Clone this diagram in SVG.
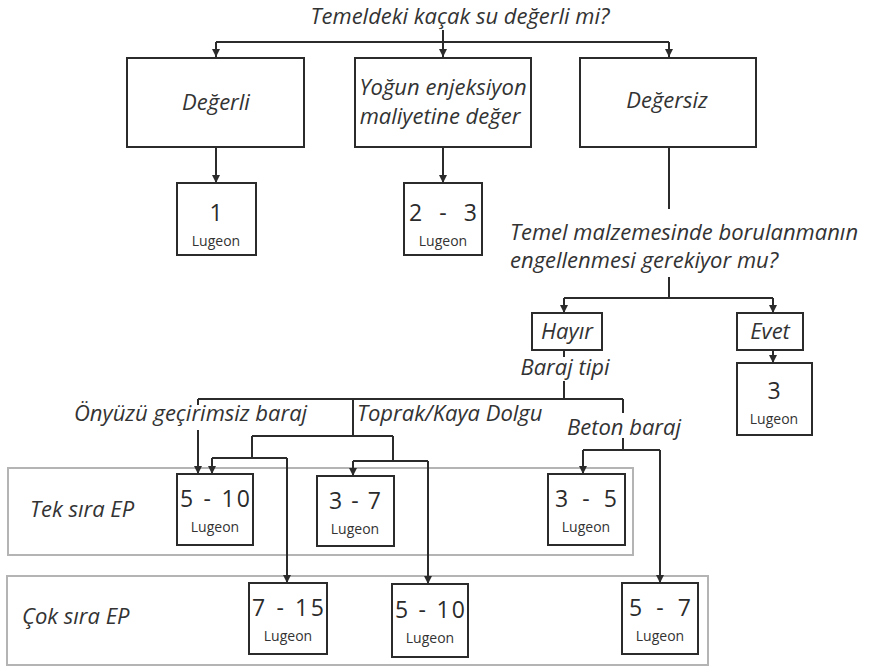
<svg xmlns="http://www.w3.org/2000/svg" width="870" height="669" viewBox="0 0 870 669">
<defs>
<marker id="ah" viewBox="0 0 10 10" refX="10" refY="5" markerWidth="8" markerHeight="8" markerUnits="userSpaceOnUse" orient="auto">
<path d="M0,0 L10,5 L0,10 z" fill="#2b2b2b"/>
</marker>
<style>
.it{font-family:"Open Sans","Noto Sans","DejaVu Sans",sans-serif;font-style:italic;fill:#333;font-size:22px}
.num{font-family:"Open Sans","Noto Sans","DejaVu Sans",sans-serif;fill:#2b2b2b;font-size:23px;text-anchor:middle}
.lu{font-family:"Open Sans","Noto Sans","DejaVu Sans",sans-serif;fill:#333;font-size:14px;text-anchor:middle}
.box{fill:#fff;stroke:#2b2b2b;stroke-width:2}
.cont{fill:none;stroke:#b4b4b4;stroke-width:2}
.ln{fill:none;stroke:#2b2b2b;stroke-width:2}
.ar{fill:none;stroke:#2b2b2b;stroke-width:2;marker-end:url(#ah)}
</style>
</defs>
<rect width="870" height="669" fill="#fff"/>

<g id="containers">
<rect id="tek" class="cont" x="8" y="468" width="625" height="87"/>
<rect id="cok" class="cont" x="7" y="576" width="701" height="89"/>
</g>

<g id="connectors">
<path class="ar" d="M443 30 V57"/>
<path class="ln" d="M216 42 H669"/>
<path class="ar" d="M216 42 V57"/>
<path class="ar" d="M669 42 V57"/>
<path class="ar" d="M216 147 V183"/>
<path class="ar" d="M443 147 V183"/>
<path class="ln" d="M669 147 V209"/>
<path class="ln" d="M669 277 V298"/>
<path class="ln" d="M564 298 H773"/>
<path class="ar" d="M564 298 V313"/>
<path class="ar" d="M773 298 V313"/>
<path class="ar" d="M773 350 V363"/>
<path class="ln" d="M564 350 V357"/>
<path class="ln" d="M564 381 V399"/>
<path class="ln" d="M198 399 H623"/>
<path class="ln" d="M198 399 V405"/>
<path class="ar" d="M198 430 V474"/>
<path class="ln" d="M353 399 V436"/>
<path class="ln" d="M252 436 H393"/>
<path class="ln" d="M252 436 V458"/>
<path class="ln" d="M212 458 H287"/>
<path class="ar" d="M212 458 V474"/>
<path class="ar" d="M287 458 V583"/>
<path class="ln" d="M393 436 V461"/>
<path class="ln" d="M353 461 H428"/>
<path class="ar" d="M353 461 V476"/>
<path class="ar" d="M428 461 V584"/>
<path class="ln" d="M623 399 V413"/>
<path class="ln" d="M623 438 V450"/>
<path class="ln" d="M583 450 H660"/>
<path class="ar" d="M583 450 V474"/>
<path class="ar" d="M660 450 V583"/>
</g>

<g id="q1"><text class="it" x="460" y="24" font-size="21.5" text-anchor="middle">Temeldeki kaçak su değerli mi?</text></g>

<g id="degerli">
<rect class="box" x="127" y="58" width="177" height="89"/>
<text class="it" x="216" y="110" font-size="24.5" text-anchor="middle">Değerli</text>
</g>
<g id="yogun">
<rect class="box" x="355" y="58" width="176" height="89"/>
<text class="it" x="443" y="95" font-size="22.5" text-anchor="middle">Yoğun enjeksiyon</text>
<text class="it" x="440" y="124" font-size="22.5" text-anchor="middle">maliyetine değer</text>
</g>
<g id="degersiz">
<rect class="box" x="580" y="58" width="176" height="89"/>
<text class="it" x="667" y="108" font-size="25" text-anchor="middle">Değersiz</text>
</g>

<g id="r1">
<rect class="box" x="177" y="183" width="79" height="72"/>
<text class="num" x="216" y="221" font-size="25">1</text>
<text class="lu" x="216" y="246">Lugeon</text>
</g>
<g id="r23">
<rect class="box" x="404" y="183" width="78" height="72"/>
<text class="num" x="443" y="221" font-size="25" textLength="68" lengthAdjust="spacing">2 - 3</text>
<text class="lu" x="443" y="246">Lugeon</text>
</g>

<g id="q2">
<text class="it" x="510" y="240">Temel malzemesinde borulanmanın</text>
<text class="it" x="510" y="268">engellenmesi gerekiyor mu?</text>
</g>

<g id="hayir">
<rect class="box" x="532" y="313" width="70" height="37"/>
<text class="it" x="567" y="339" font-size="21" text-anchor="middle">Hayır</text>
</g>
<g id="evet">
<rect class="box" x="737" y="313" width="66" height="37"/>
<text class="it" x="770" y="339" font-size="21" text-anchor="middle">Evet</text>
</g>
<g id="r3">
<rect class="box" x="737" y="363" width="75" height="72"/>
<text class="num" x="774" y="399" font-size="25">3</text>
<text class="lu" x="774" y="424">Lugeon</text>
</g>

<g id="barajtipi"><text class="it" x="565" y="375" text-anchor="middle">Baraj tipi</text></g>
<g id="onyuzu"><text class="it" x="74" y="421">Önyüzü geçirimsiz baraj</text></g>
<g id="toprak"><text class="it" x="357" y="421">Toprak/Kaya Dolgu</text></g>
<g id="beton"><text class="it" x="567" y="435">Beton baraj</text></g>

<g id="tekLabel"><text class="it" x="30" y="517">Tek sıra EP</text></g>
<g id="cokLabel"><text class="it" x="22" y="624">Çok sıra EP</text></g>

<g id="t510">
<rect class="box" x="177" y="474" width="76" height="71"/>
<text class="num" x="215" y="507" textLength="70" lengthAdjust="spacing">5 - 10</text>
<text class="lu" x="215" y="532">Lugeon</text>
</g>
<g id="t37">
<rect class="box" x="317" y="476" width="77" height="70"/>
<text class="num" x="355" y="509" textLength="52" lengthAdjust="spacing">3 - 7</text>
<text class="lu" x="355" y="534">Lugeon</text>
</g>
<g id="t35">
<rect class="box" x="548" y="474" width="77" height="71"/>
<text class="num" x="586" y="507" textLength="62" lengthAdjust="spacing">3 - 5</text>
<text class="lu" x="586" y="532">Lugeon</text>
</g>

<g id="c715">
<rect class="box" x="249" y="583" width="78" height="71"/>
<text class="num" x="288" y="616" textLength="72" lengthAdjust="spacing">7 - 15</text>
<text class="lu" x="288" y="641">Lugeon</text>
</g>
<g id="c510">
<rect class="box" x="392" y="584" width="76" height="73"/>
<text class="num" x="430" y="618" textLength="70" lengthAdjust="spacing">5 - 10</text>
<text class="lu" x="430" y="643">Lugeon</text>
</g>
<g id="c57">
<rect class="box" x="622" y="583" width="76" height="71"/>
<text class="num" x="660" y="616" textLength="62" lengthAdjust="spacing">5 - 7</text>
<text class="lu" x="660" y="641">Lugeon</text>
</g>
</svg>
